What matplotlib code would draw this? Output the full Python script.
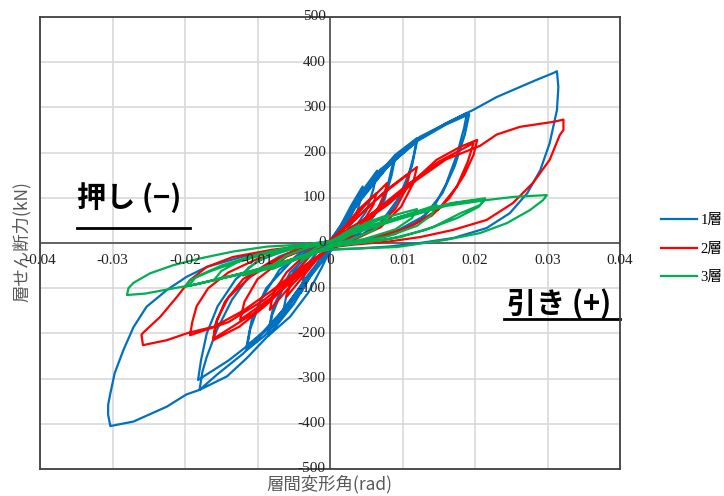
import matplotlib
matplotlib.use("Agg")
import matplotlib.pyplot as plt
from matplotlib.lines import Line2D

# story drift angle (rad), story shear (kN) traced from the loops
story1 = [(0, 0),
    (0.0015, 40), (0.003, 85), (0.0045, 125), (0.0042, 95), (0.0035, 55), (0.002, 20), (0.0, -5),
    (-0.0015, -40), (-0.003, -80), (-0.004, -110), (-0.0037, -80), (-0.003, -45), (-0.0015, -15), (0.0, 5),
    (0.002, 50), (0.004, 105), (0.0065, 160), (0.006, 120), (0.005, 70), (0.003, 25), (0.001, 0),
    (-0.001, -25), (-0.003, -80), (-0.0065, -155), (-0.006, -115), (-0.0045, -60), (-0.002, -15), (0.0005, 5),
    (0.003, 75), (0.006, 140), (0.009, 190), (0.0085, 150), (0.0075, 95), (0.005, 35), (0.002, 5), (0.0, -8),
    (-0.002, -55), (-0.005, -135), (-0.0085, -205), (-0.008, -160), (-0.0065, -100), (-0.004, -40), (-0.001, -5), (0.001, 5),
    (0.004, 100), (0.0088, 185), (0.008, 130), (0.0065, 70), (0.004, 20), (0.001, 0),
    (-0.004, -100), (-0.0085, -195), (-0.0078, -140), (-0.0055, -65), (-0.002, -10), (0.001, 5),
    (0.003, 70), (0.006, 140), (0.009, 195), (0.012, 232), (0.0115, 190), (0.0105, 130), (0.0085, 70), (0.006, 30), (0.003, 5), (0.0, -10),
    (-0.003, -75), (-0.006, -150), (-0.009, -205), (-0.0115, -237), (-0.011, -190), (-0.0095, -125), (-0.007, -60), (-0.004, -20), (-0.001, 0), (0.001, 5),
    (0.004, 95), (0.008, 170), (0.012, 225), (0.0113, 170), (0.0095, 100), (0.007, 45), (0.003, 5), (0.0, -8),
    (-0.004, -100), (-0.008, -180), (-0.0115, -228), (-0.0108, -170), (-0.0088, -100), (-0.005, -35), (-0.001, 0), (0.001, 5),
    (0.003, 70), (0.0069, 162), (0.0092, 191), (0.0124, 235), (0.0161, 265), (0.0189, 288), (0.0185, 255), (0.0175, 195),
    (0.016, 130), (0.0145, 85), (0.012, 45), (0.009, 20), (0.005, 5), (0.0, -10),
    (-0.003, -70), (-0.006, -140), (-0.01, -210), (-0.014, -260), (-0.0182, -303), (-0.0178, -260), (-0.017, -200),
    (-0.0155, -140), (-0.013, -80), (-0.01, -40), (-0.006, -15), (-0.002, 0), (0.001, 5),
    (0.004, 95), (0.008, 170), (0.012, 225), (0.016, 262), (0.0192, 285), (0.0186, 240), (0.0172, 170), (0.0155, 110),
    (0.013, 60), (0.009, 25), (0.004, 5), (0.0, -10),
    (-0.004, -95), (-0.008, -180), (-0.012, -245), (-0.0155, -290), (-0.018, -325), (-0.0176, -285), (-0.017, -252),
    (-0.0156, -192), (-0.0135, -125), (-0.011, -70), (-0.007, -30), (-0.003, -5), (0.0, 5),
    (0.004, 90), (0.008, 170), (0.012, 228), (0.016, 265), (0.0197, 294), (0.023, 323), (0.0262, 345), (0.0285, 361),
    (0.0308, 376), (0.0313, 380), (0.0315, 345), (0.0313, 294), (0.0303, 221), (0.029, 161), (0.0272, 110), (0.0248, 66),
    (0.0216, 33), (0.017, 11), (0.0124, 0), (0.008, -8), (0.004, -12), (0.0, -15),
    (-0.001, -50), (-0.003, -110), (-0.0055, -163), (-0.0087, -208), (-0.0115, -255), (-0.0142, -295), (-0.018, -325),
    (-0.0198, -335), (-0.0225, -362), (-0.0271, -395), (-0.0303, -405), (-0.0306, -380), (-0.0306, -358), (-0.0303, -333),
    (-0.0297, -288), (-0.0285, -237), (-0.0271, -186), (-0.0253, -141), (-0.0225, -104), (-0.0198, -75), (-0.017, -53),
    (-0.012, -30), (-0.006, -12), (0.0, 0)]

story2 = [(0, 0),
    (0.002, 35), (0.004, 75), (0.0064, 110), (0.006, 85), (0.0045, 45), (0.002, 10), (0.0, -5),
    (-0.002, -40), (-0.004, -80), (-0.006, -119), (-0.0055, -90), (-0.004, -50), (-0.002, -15), (0.0, 5),
    (0.003, 50), (0.0055, 95), (0.0079, 133), (0.0074, 100), (0.006, 60), (0.003, 15), (0.0, -5),
    (-0.003, -55), (-0.006, -105), (-0.0083, -148), (-0.0078, -110), (-0.006, -65), (-0.003, -20), (0.0, 5),
    (0.003, 45), (0.007, 105), (0.011, 155), (0.0105, 120), (0.009, 75), (0.006, 30), (0.002, 0), (0.0, -8),
    (-0.003, -50), (-0.008, -120), (-0.0124, -170), (-0.0118, -130), (-0.01, -80), (-0.006, -30), (-0.002, -5), (0.0, 5),
    (0.004, 60), (0.008, 120), (0.012, 168), (0.0114, 130), (0.0098, 80), (0.007, 35), (0.003, 5), (0.0, -10),
    (-0.004, -65), (-0.009, -140), (-0.0125, -185), (-0.0161, -215), (-0.0158, -180), (-0.0145, -130), (-0.012, -80),
    (-0.008, -40), (-0.004, -10), (0.0, 5),
    (0.004, 45), (0.008, 90), (0.0124, 150), (0.0147, 184), (0.018, 213), (0.0203, 228), (0.0198, 195), (0.0185, 150),
    (0.0165, 100), (0.014, 60), (0.01, 30), (0.005, 8), (0.0, -8),
    (-0.004, -60), (-0.009, -125), (-0.014, -175), (-0.0193, -204), (-0.019, -175), (-0.0184, -140), (-0.0168, -100),
    (-0.014, -65), (-0.01, -35), (-0.005, -12), (0.0, 3),
    (0.005, 55), (0.01, 120), (0.015, 180), (0.0198, 221), (0.019, 180), (0.0175, 125), (0.015, 75), (0.011, 35),
    (0.006, 10), (0.0, -10),
    (-0.005, -80), (-0.01, -150), (-0.0161, -212), (-0.0156, -170), (-0.014, -120), (-0.011, -75), (-0.007, -35),
    (-0.003, -10), (0.0, 0),
    (0.004, 40), (0.008, 85), (0.012, 140), (0.016, 185), (0.0207, 215), (0.023, 240), (0.0262, 257), (0.0308, 268),
    (0.0322, 273), (0.0322, 250), (0.0317, 239), (0.0303, 184), (0.028, 133), (0.0252, 88), (0.0216, 51), (0.017, 29),
    (0.0124, 13), (0.008, 3), (0.003, -4), (0.0, -10),
    (-0.004, -55), (-0.008, -105), (-0.012, -150), (-0.016, -185), (-0.0196, -199), (-0.0225, -215), (-0.0258, -226),
    (-0.026, -203), (-0.0258, -199), (-0.0234, -163), (-0.0211, -119), (-0.0193, -82), (-0.017, -53), (-0.0134, -31),
    (-0.008, -15), (-0.003, -5), (0.0, 0)]

story3 = [(0, 0),
    (0.002, 22), (0.004, 40), (0.0035, 28), (0.002, 10), (0.0, -5),
    (-0.002, -22), (-0.004, -40), (-0.0035, -28), (-0.002, -12), (0.0, 3),
    (0.003, 28), (0.0055, 48), (0.008, 62), (0.0075, 48), (0.006, 28), (0.003, 8), (0.0, -6),
    (-0.003, -25), (-0.0055, -42), (-0.008, -58), (-0.0075, -45), (-0.006, -28), (-0.003, -10), (0.0, 3),
    (0.004, 35), (0.008, 58), (0.012, 75), (0.0113, 55), (0.009, 30), (0.005, 10), (0.0, -8),
    (-0.004, -32), (-0.008, -55), (-0.012, -72), (-0.0113, -55), (-0.009, -32), (-0.005, -12), (0.0, 3),
    (0.004, 32), (0.0097, 58), (0.0147, 84), (0.014, 62), (0.012, 38), (0.008, 15), (0.003, 0), (0.0, -8),
    (-0.004, -30), (-0.01, -60), (-0.016, -82), (-0.015, -62), (-0.0125, -40), (-0.008, -18), (-0.003, -3), (0.0, 3),
    (0.004, 28), (0.0097, 58), (0.0166, 88), (0.0214, 99), (0.0207, 84), (0.018, 66), (0.0142, 35), (0.0097, 13),
    (0.005, 2), (0.0, -8),
    (-0.005, -35), (-0.01, -60), (-0.0156, -80), (-0.02, -97), (-0.0193, -82), (-0.0166, -63), (-0.0134, -45),
    (-0.009, -25), (-0.004, -8), (0.0, 3),
    (0.005, 32), (0.011, 62), (0.017, 88), (0.0214, 97), (0.0205, 80), (0.0175, 55), (0.013, 28), (0.008, 8),
    (0.003, -2), (0.0, -8),
    (-0.005, -35), (-0.012, -68), (-0.0195, -95), (-0.0185, -75), (-0.015, -50), (-0.01, -25), (-0.004, -5), (0.0, 3),
    (0.005, 30), (0.01, 55), (0.016, 82), (0.0216, 95), (0.0253, 102), (0.0299, 106), (0.0294, 95), (0.0276, 73),
    (0.0244, 44), (0.0207, 22), (0.016, 7), (0.0092, -9), (0.004, -12), (0.0, -14),
    (-0.003, -25), (-0.008, -50), (-0.013, -70), (-0.018, -90), (-0.0225, -103), (-0.0255, -112), (-0.028, -115),
    (-0.0278, -100), (-0.0271, -88), (-0.0248, -67), (-0.0216, -49), (-0.0179, -34), (-0.0134, -19), (-0.0087, -8),
    (0.0, 0)]

labels = ["1層", "2層", "3層"]
colors = ["#0070C0", "#FF0000", "#00B050"]

x_ticks = [-0.04, -0.03, -0.02, -0.01, 0, 0.01, 0.02, 0.03, 0.04]
x_ticklabels = ["-0.04", "-0.03", "-0.02", "-0.01", "0", "0.01", "0.02", "0.03", "0.04"]
y_ticks = [-500, -400, -300, -200, -100, 0, 100, 200, 300, 400, 500]

jp = ["Noto Sans CJK JP", "DejaVu Sans"]
serif = ["Liberation Serif", "Noto Sans CJK JP"]

fig = plt.figure(figsize=(7.24, 4.96), dpi=100)
ax = fig.add_axes([40/724, 1-469/496, 580/724, 452/496])

for data, lab, c in zip([story1, story2, story3], labels, colors):
    xs = [p[0] for p in data]
    ys = [p[1] for p in data]
    ax.plot(xs, ys, color=c, lw=1.6, label=lab, solid_joinstyle="round")

ax.set_xlim(-0.04, 0.04)
ax.set_ylim(-500, 500)
ax.set_xticks(x_ticks)
ax.set_yticks(y_ticks)
ax.tick_params(length=0, labelleft=False, labelbottom=False)
ax.grid(True, color="#D9D9D9", lw=1.2)
ax.set_axisbelow(True)
for s in ax.spines.values():
    s.set_color("#404040")
    s.set_linewidth(1.3)
ax.axhline(0, color="#404040", lw=1.1, zorder=1.5)
ax.axvline(0, color="#404040", lw=1.1, zorder=1.5)

# tick labels sitting on the zero lines
for v in y_ticks:
    ax.annotate(str(v), (0, v), xytext=(-3, 0), textcoords="offset points",
                ha="right", va="center", fontsize=11, family=serif, color="#222222")
for v, t in zip(x_ticks, x_ticklabels):
    ax.annotate(t, (v, 0), xytext=(0, -8), textcoords="offset points",
                ha="center", va="top", fontsize=11, family=serif, color="#222222")

fig.text(22/724, 1-242/496, "層せん断力(kN)", rotation=90, ha="center", va="center",
         fontsize=12.5, family=jp, color="#595959")
fig.text(329/724, 1-484/496, "層間変形角(rad)", ha="center", va="center",
         fontsize=12.5, family=jp, color="#595959")

ax.text(0.064, 0.6, "押し (−)", transform=ax.transAxes, fontsize=21, fontweight="bold",
        family=jp, ha="left", va="center")
ax.add_line(Line2D([0.0638, 0.2586], [0.533, 0.533], transform=ax.transAxes, color="black", lw=2))
ax.text(0.806, 0.365, "引き (+)", transform=ax.transAxes, fontsize=21, fontweight="bold",
        family=jp, ha="left", va="center")
ax.add_line(Line2D([0.8, 1.0], [0.332, 0.332], transform=ax.transAxes, color="black", lw=2, clip_on=False))

leg = fig.legend(loc="center left", bbox_to_anchor=(661/724, 1-249/496), frameon=False,
                 borderpad=0, borderaxespad=0, handlelength=2.5, handletextpad=0.2, labelspacing=1.05,
                 prop={"family": serif, "size": 10.5})

fig.savefig("out.png", dpi=100)
